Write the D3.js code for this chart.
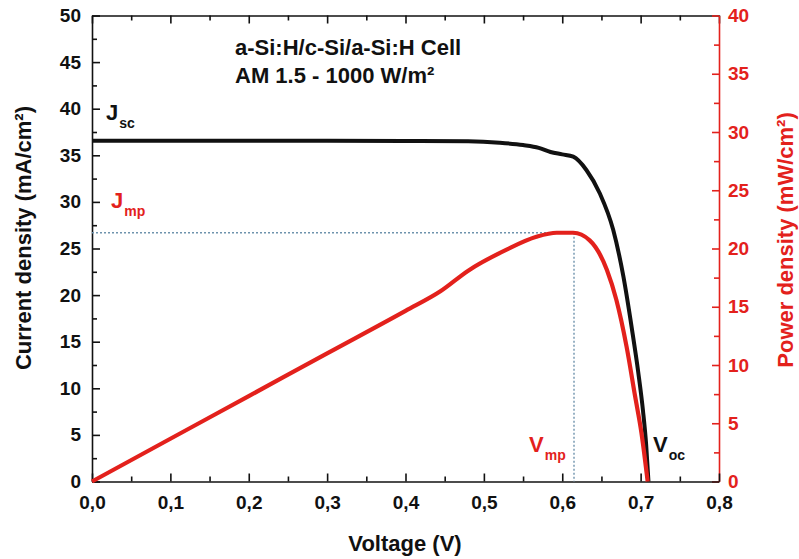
<!DOCTYPE html>
<html><head><meta charset="utf-8">
<script src="https://cdn.jsdelivr.net/npm/d3@7"></script>
<style>
html,body{margin:0;padding:0;background:#fff;}
svg{display:block;font-family:"Liberation Sans",Arial,Helvetica,sans-serif;font-weight:bold;}
</style></head>
<body>
<svg id="chart" width="799" height="559"></svg>
<script>
// ---- data ----
const jVoltage = [0, 0.1, 0.2, 0.3, 0.4, 0.48, 0.52, 0.55, 0.57, 0.585, 0.6, 0.614, 0.631, 0.648, 0.665, 0.678, 0.689, 0.697, 0.703, 0.707, 0.710];
const jCurrent = [36.55, 36.55, 36.55, 36.55, 36.53, 36.5, 36.35, 36.1, 35.8, 35.35, 35.1, 34.85, 33.4, 30.9, 27.0, 22.0, 16.3, 11.7, 7.6, 4.0, 0];
const pVoltage = [0, 0.1, 0.2, 0.3, 0.4, 0.445, 0.48, 0.529, 0.567, 0.593, 0.614, 0.635, 0.657, 0.669, 0.682, 0.693, 0.701, 0.709];
const pPower   = [0, 3.67, 7.33, 11.0, 14.65, 16.35, 18.1, 19.9, 21.0, 21.35, 21.35, 20.7, 18.15, 15.6, 11.6, 7.3, 4.2, 0];
const vmp = 0.615;      // V at maximum power
const pmax = 21.35;     // maximum power (mW/cm²)
const xTickValues = [0, 0.1, 0.2, 0.3, 0.4, 0.5, 0.6, 0.7, 0.8];
const xTickLabels = ["0,0", "0,1", "0,2", "0,3", "0,4", "0,5", "0,6", "0,7", "0,8"];
const xMinor = [0.05, 0.15, 0.25, 0.35, 0.45, 0.55, 0.65, 0.75];
const yLeftTicks = [0, 5, 10, 15, 20, 25, 30, 35, 40, 45, 50];
const yLeftMinor = [2.5, 7.5, 12.5, 17.5, 22.5, 27.5, 32.5, 37.5, 42.5, 47.5];
const yRightTicks = [0, 5, 10, 15, 20, 25, 30, 35, 40];
const yRightMinor = [2.5, 7.5, 12.5, 17.5, 22.5, 27.5, 32.5, 37.5];

const RED = "#e3211c";
const BLACK = "#111";
const svg = d3.select("#chart");
const L = 92, R = 719, T = 15.5, B = 481.5;

const x = d3.scaleLinear().domain([0, 0.8]).range([L, R]);
const yL = d3.scaleLinear().domain([0, 50]).range([B, T]);
const yR = d3.scaleLinear().domain([0, 40]).range([B, T]);

function styleAxis(g, color, fs) {
  g.selectAll("path.domain").attr("stroke", color).attr("stroke-width", 1.6);
  g.selectAll(".tick line").attr("stroke", color).attr("stroke-width", 1.6);
  g.selectAll(".tick text").attr("fill", color).attr("font-size", fs)
    .attr("font-family", '"Liberation Sans",Arial,sans-serif').attr("font-weight", "bold");
}

// minor ticks
svg.append("g").attr("transform", `translate(0,${B})`)
  .call(d3.axisBottom(x).tickValues(xMinor).tickSize(-5).tickFormat("").tickSizeOuter(0))
  .call(g => { styleAxis(g, BLACK, 0); g.select(".domain").remove(); });
svg.append("g").attr("transform", `translate(0,${T})`)
  .call(d3.axisTop(x).tickValues(xMinor).tickSize(-5).tickFormat("").tickSizeOuter(0))
  .call(g => { styleAxis(g, BLACK, 0); g.select(".domain").remove(); });
svg.append("g").attr("transform", `translate(${L},0)`)
  .call(d3.axisLeft(yL).tickValues(yLeftMinor).tickSize(-5).tickFormat("").tickSizeOuter(0))
  .call(g => { styleAxis(g, BLACK, 0); g.select(".domain").remove(); });
svg.append("g").attr("transform", `translate(${R},0)`)
  .call(d3.axisRight(yR).tickValues(yRightMinor).tickSize(-5).tickFormat("").tickSizeOuter(0))
  .call(g => { styleAxis(g, RED, 0); g.select(".domain").remove(); });

// major axes
svg.append("g").attr("transform", `translate(0,${T})`)
  .call(d3.axisTop(x).tickValues(xTickValues).tickSize(-8).tickFormat("").tickSizeOuter(0))
  .call(g => styleAxis(g, BLACK, 0));
svg.append("g").attr("transform", `translate(${R},0)`)
  .call(d3.axisRight(yR).tickValues(yRightTicks).tickSize(-7).tickPadding(9).tickSizeOuter(0))
  .call(g => styleAxis(g, RED, 19))
  .call(g => g.selectAll(".tick text").attr("text-anchor", "start").attr("x", 9));
svg.append("g").attr("transform", `translate(${L},0)`)
  .call(d3.axisLeft(yL).tickValues(yLeftTicks).tickSize(-8).tickPadding(11).tickSizeOuter(0))
  .call(g => styleAxis(g, BLACK, 19))
  .call(g => g.selectAll(".tick text").attr("x", -11));
svg.append("g").attr("transform", `translate(0,${B})`)
  .call(d3.axisBottom(x).tickValues(xTickValues).tickSize(-8).tickPadding(14).tickSizeOuter(0)
        .tickFormat((d, i) => xTickLabels[i]))
  .call(g => styleAxis(g, BLACK, 19))
  .call(g => g.selectAll(".tick text").attr("y", 14));

// dashed guide lines
const DASH = "#6f93ad";
svg.append("line").attr("x1", x(0)).attr("x2", x(vmp)).attr("y1", yR(pmax)).attr("y2", yR(pmax))
  .attr("stroke", DASH).attr("stroke-width", 1.4).attr("stroke-dasharray", "2,2");
svg.append("line").attr("x1", x(vmp)).attr("x2", x(vmp)).attr("y1", yR(pmax)).attr("y2", yR(0))
  .attr("stroke", DASH).attr("stroke-width", 1.4).attr("stroke-dasharray", "2,2");

// curves
const jData = jVoltage.map((v, i) => [v, jCurrent[i]]);
const pData = pVoltage.map((v, i) => [v, pPower[i]]);
svg.append("path").datum(jData)
  .attr("d", d3.line().x(d => x(d[0])).y(d => yL(d[1])).curve(d3.curveMonotoneX))
  .attr("fill", "none").attr("stroke", BLACK).attr("stroke-width", 4).attr("stroke-linejoin", "round");
svg.append("path").datum(pData)
  .attr("d", d3.line().x(d => x(d[0])).y(d => yR(d[1])).curve(d3.curveMonotoneX))
  .attr("fill", "none").attr("stroke", RED).attr("stroke-width", 4.2).attr("stroke-linejoin", "round");

// axis titles
svg.append("text").attr("transform", `translate(31,238) rotate(-90)`)
  .attr("text-anchor", "middle").attr("font-size", 22).attr("fill", BLACK)
  .text("Current density (mA/cm²)");
svg.append("text").attr("transform", `translate(793,240) rotate(-90)`)
  .attr("text-anchor", "middle").attr("font-size", 22).attr("fill", RED)
  .text("Power density (mW/cm²)");
svg.append("text").attr("x", 405).attr("y", 551)
  .attr("text-anchor", "middle").attr("font-size", 22).attr("fill", BLACK)
  .text("Voltage (V)");

// header annotation
svg.append("text").attr("x", 235).attr("y", 55).attr("font-size", 22).attr("fill", BLACK)
  .text("a-Si:H/c-Si/a-Si:H Cell");
svg.append("text").attr("x", 235).attr("y", 83).attr("font-size", 22).attr("fill", BLACK)
  .text("AM 1.5 - 1000 W/m²");

// point labels with subscripts
function subLabel(px, py, main, sub, color) {
  const t = svg.append("text").attr("x", px).attr("y", py).attr("fill", color).attr("font-size", 22);
  t.append("tspan").text(main);
  t.append("tspan").attr("font-size", 14).attr("dy", 8).attr("dx", 1).text(sub);
}
subLabel(106, 120, "J", "sc", BLACK);
subLabel(111, 208, "J", "mp", RED);
subLabel(529, 452, "V", "mp", RED);
subLabel(653, 452, "V", "oc", BLACK);
</script>
</body></html>
